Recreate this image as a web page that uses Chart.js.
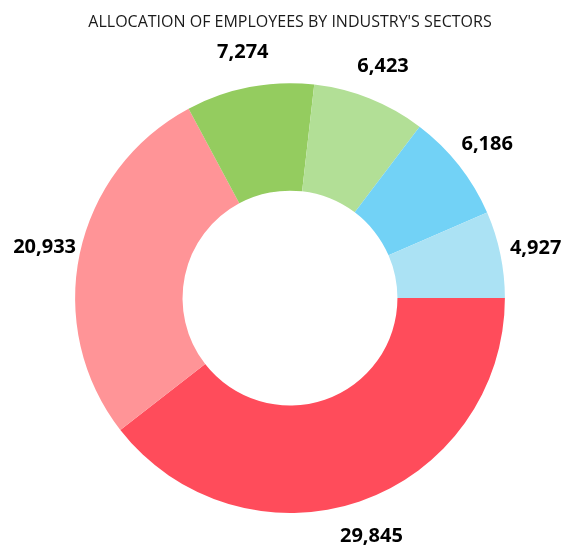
<!DOCTYPE html>
<html>
<head>
<meta charset="utf-8">
<script src="https://cdn.jsdelivr.net/npm/chart.js@4/dist/chart.umd.min.js"></script>
<style>
  html, body { margin: 0; padding: 0; background: #fff; }
  #wrap { width: 561px; height: 548px; }
</style>
</head>
<body>
<div id="wrap"><canvas id="sectorChart"></canvas></div>
<script>
const sectors = ["Sector 1", "Sector 2", "Sector 3", "Sector 4", "Sector 5", "Sector 6"];
const employees = [29845, 20933, 7274, 6423, 6186, 4927];
const sliceColors = ["#FF4C5B", "#FF9497", "#94CC5F", "#B2DF96", "#72D2F6", "#ABE2F4"];

// draws the value labels outside each slice
const outsideLabels = {
    id: "outsideLabels",
    afterDatasetsDraw(chart) {
        const ctx = chart.ctx;
        const meta = chart.getDatasetMeta(0);
        ctx.save();
        ctx.font = "bold 20px 'Open Sans'";
        ctx.fillStyle = "#000";
        ctx.textAlign = "center";
        ctx.textBaseline = "middle";
        meta.data.forEach((arc, i) => {
            const mid = (arc.startAngle + arc.endAngle) / 2;
            const r = arc.outerRadius + 36;
            const x = arc.x + Math.cos(mid) * r;
            const y = arc.y + Math.sin(mid) * r + 1;
            ctx.fillText(employees[i].toLocaleString("en-US"), x, y);
        });
        ctx.restore();
    }
};

new Chart(document.getElementById("sectorChart"), {
    type: "doughnut",
    data: {
        labels: sectors,
        datasets: [{
            data: employees,
            backgroundColor: sliceColors,
            borderWidth: 0
        }]
    },
    options: {
        responsive: true,
        maintainAspectRatio: false,
        animation: false,
        rotation: 90,
        cutout: "50%",
        layout: { padding: { left: 75, right: 56, top: 0, bottom: 35 } },
        plugins: {
            legend: { display: false },
            tooltip: { enabled: false },
            title: {
                display: true,
                text: "ALLOCATION OF EMPLOYEES BY INDUSTRY'S SECTORS",
                color: "#1a1a1a",
                font: { family: "'Open Sans'", size: 16, weight: "normal" },
                padding: { top: 13, bottom: 51 }
            }
        }
    },
    plugins: [outsideLabels]
});
</script>
</body>
</html>
